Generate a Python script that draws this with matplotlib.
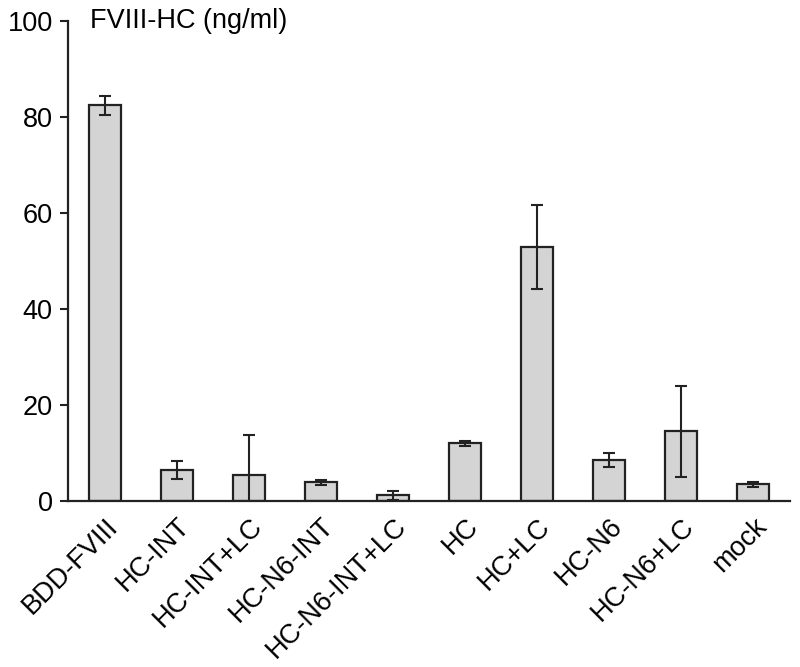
import matplotlib
matplotlib.use("Agg")
import matplotlib.pyplot as plt
import numpy as np

plt.rcParams['font.family'] = ['Liberation Sans', 'DejaVu Sans']

categories = ["BDD-FVIII", "HC-INT", "HC-INT+LC", "HC-N6-INT", "HC-N6-INT+LC",
              "HC", "HC+LC", "HC-N6", "HC-N6+LC", "mock"]
values = [82.4, 6.4, 5.3, 3.8, 1.1, 12.0, 52.9, 8.5, 14.5, 3.4]
errors = [2.0, 1.8, 8.4, 0.6, 0.9, 0.5, 8.7, 1.5, 9.5, 0.5]
yticks = [0, 20, 40, 60, 80, 100]
ylabel = "FVIII-HC (ng/ml)"

fig = plt.figure(figsize=(8, 6.67), dpi=100)
ax = fig.add_axes([0.085, 0.2493, 0.9025, 0.7197])

x = np.arange(len(categories))
ax.bar(x, values, width=0.44, color="#d4d4d4", edgecolor="#222222", linewidth=1.6, zorder=2)
ax.errorbar(x, values, yerr=errors, fmt="none", ecolor="#222222", elinewidth=1.5,
            capsize=4.5, capthick=1.5, zorder=3)

ax.set_xlim(-0.514, 9.51)
ax.set_ylim(0, 100)
ax.set_yticks(yticks)
ax.set_yticklabels([str(t) for t in yticks], fontsize=19.5)
ax.set_xticks(x)
ax.set_xticklabels(categories, rotation=45, ha="right", rotation_mode="anchor", fontsize=19.5)
ax.tick_params(axis="x", length=0, pad=9)
ax.tick_params(axis="y", length=6, width=1.5, direction="out", pad=5, color="#222222")

for s in ["top", "right"]:
    ax.spines[s].set_visible(False)
for s in ["left", "bottom"]:
    ax.spines[s].set_linewidth(1.6)
    ax.spines[s].set_color("#222222")

ax.text(-0.21, 100, ylabel, fontsize=19.5, va="center", ha="left")

fig.savefig("out.png", dpi=100)
